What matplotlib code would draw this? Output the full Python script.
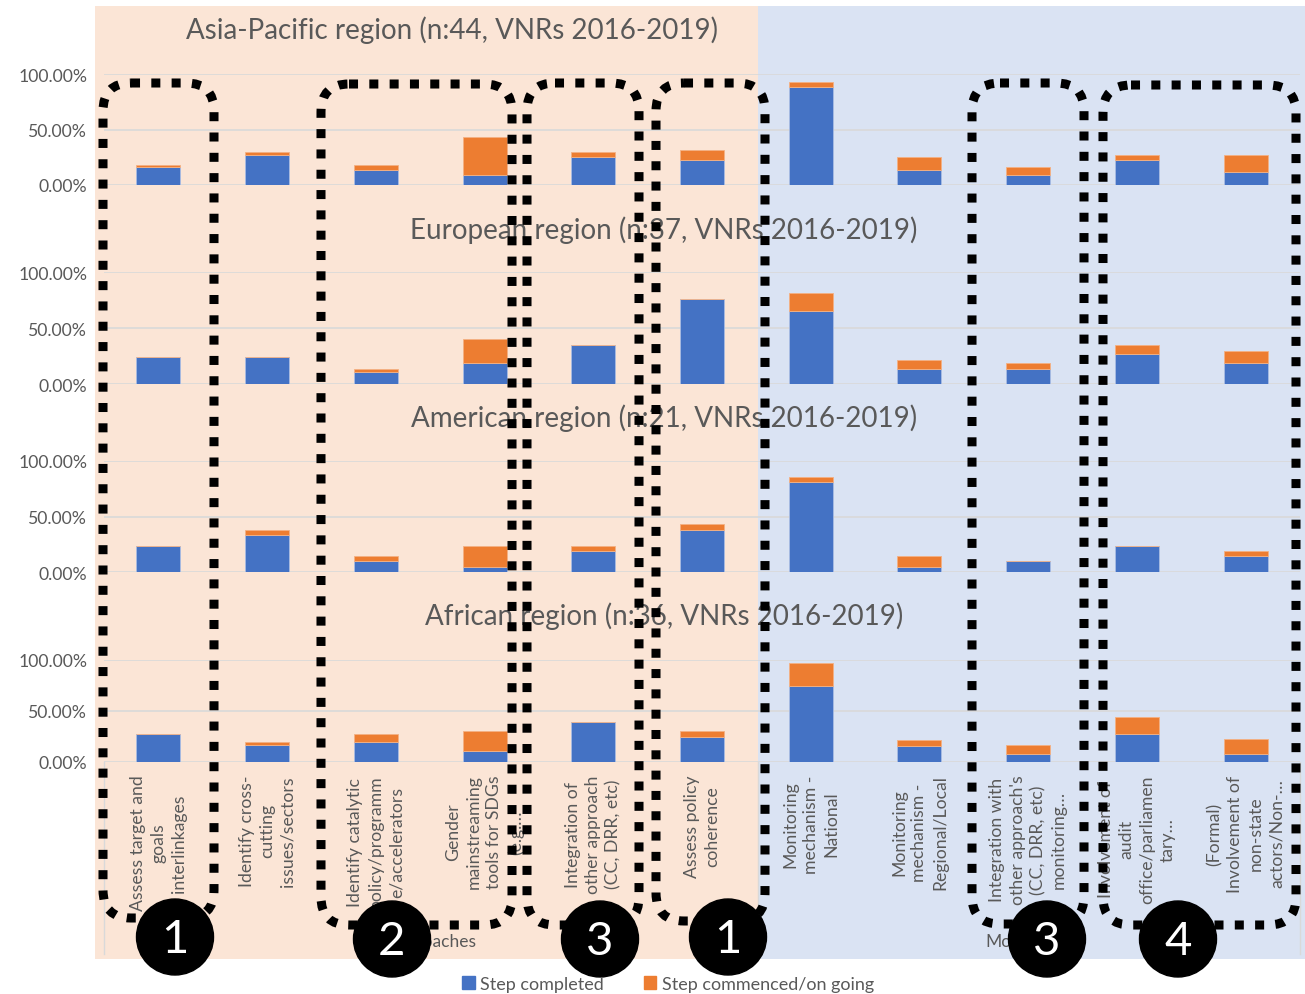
import matplotlib
matplotlib.use("Agg")
import matplotlib.pyplot as plt
from matplotlib.patches import Rectangle, FancyBboxPatch, Ellipse, Patch
from matplotlib.ticker import PercentFormatter

plt.rcParams["font.family"] = ["Lato", "DejaVu Sans"]

# --- Figure size in pixels ---
W, H = 1305, 995
GREY = "#595959"
BLUE = "#4472C4"
ORANGE = "#ED7D31"
PEACH = "#FBE5D6"
LIGHTBLUE = "#DAE3F3"
GRID = "#D9D9D9"

# --- Data ---
categories = [
    "Assess target and\ngoals\ninterlinkages",
    "Identify cross-\ncutting\nissues/sectors",
    "Identify catalytic\npolicy/programm\ne/accelerators",
    "Gender\nmainstreaming\ntools for SDGs\n(e.g.\u2026",
    "Integration of\nother approach\n(CC, DRR, etc)",
    "Assess policy\ncoherence",
    "Monitoring\nmechanism -\nNational",
    "Monitoring\nmechanism -\nRegional/Local",
    "Integration with\nother approach's\n(CC, DRR, etc)\nmonitoring\u2026",
    "Involvement of\naudit\noffice/parliamen\ntary\u2026",
    "(Formal)\nInvolvement of\nnon-state\nactors/Non-\u2026",
]
groups = ["Approaches", "Monitoring"]
series_names = ["Step completed", "Step commenced/on going"]

regions = [
    "Asia-Pacific region (n:44, VNRs 2016-2019)",
    "European region (n:37, VNRs 2016-2019)",
    "American region (n:21, VNRs 2016-2019)",
    "African region (n:36, VNRs 2016-2019)",
]

# values in %
asia_completed = [15.9, 27.3, 13.6, 9.1, 25.0, 22.7, 88.6, 13.6, 9.1, 22.7, 11.4]
asia_commenced = [2.3, 2.3, 4.5, 34.1, 4.5, 9.1, 4.5, 11.4, 6.8, 4.5, 15.9]

europe_completed = [24.3, 24.3, 10.8, 18.9, 35.1, 75.7, 64.9, 13.5, 13.5, 27.0, 18.9]
europe_commenced = [0, 0, 2.7, 21.6, 0, 0, 16.2, 8.1, 5.4, 8.1, 10.8]

america_completed = [23.8, 33.3, 9.5, 4.8, 19.0, 38.1, 81.0, 4.8, 9.5, 23.8, 14.3]
america_commenced = [0, 4.8, 4.8, 19.0, 4.8, 4.8, 4.8, 9.5, 0, 0, 4.8]

africa_completed = [27.8, 16.7, 19.4, 11.1, 38.9, 25.0, 75.0, 15.3, 8.3, 27.8, 8.3]
africa_commenced = [0, 2.8, 8.3, 19.4, 0, 5.6, 22.2, 6.3, 8.3, 16.7, 13.9]

completed = [asia_completed, europe_completed, america_completed, africa_completed]
commenced = [asia_commenced, europe_commenced, america_commenced, africa_commenced]

# --------------------------
# Layout (pixel positions)
# --------------------------
panel_px = [(75, 186), (273, 385), (462, 573), (661, 763)]   # (100% line, 0% line)
title_px = [(452, 30), (664, 230), (664, 418), (664, 616)]
plot_x0, plot_x1 = 104, 1300

fig = plt.figure(figsize=(W / 100, H / 100), dpi=100)


def pixel_axes(zorder):
    ax = fig.add_axes([0, 0, 1, 1], zorder=zorder)
    ax.set_xlim(0, W)
    ax.set_ylim(H, 0)
    ax.axis("off")
    ax.patch.set_alpha(0)
    return ax


# background panels
bg = pixel_axes(0)
bg.add_patch(Rectangle((95, 7), 663, 953, color=PEACH, lw=0))
bg.add_patch(Rectangle((758, 7), W - 758, 953, color=LIGHTBLUE, lw=0))
for xs in (plot_x0, 757.5, plot_x1):
    bg.plot([xs, xs], [763, 955], color=GRID, lw=1)
bg.text(431, 942, groups[0], ha="center", va="center", fontsize=12.5, color=GREY)
bg.text(1028, 942, groups[1], ha="center", va="center", fontsize=12.5, color=GREY)

x = list(range(len(categories)))
for i, (top, bot) in enumerate(panel_px):
    ax = fig.add_axes([plot_x0 / W, 1 - bot / H, (plot_x1 - plot_x0) / W, (bot - top) / H],
                      zorder=1)
    ax.patch.set_alpha(0)
    ax.bar(x, completed[i], width=0.405, color=BLUE, edgecolor="#A9BCE3", lw=0.6,
           zorder=2)
    ax.bar(x, commenced[i], width=0.405, bottom=completed[i], color=ORANGE,
           edgecolor="#F4B183", lw=0.6, zorder=2)
    ax.set_xlim(-0.5, len(categories) - 0.5)
    ax.set_ylim(0, 100)
    ax.set_yticks([0, 50, 100])
    ax.yaxis.set_major_formatter(PercentFormatter(decimals=2))
    ax.grid(axis="y", color=GRID, lw=1.2)
    ax.set_axisbelow(True)
    for s in ax.spines.values():
        s.set_visible(False)
    ax.tick_params(axis="y", length=0, pad=12, labelsize=12.7, labelcolor=GREY)
    if i == len(panel_px) - 1:
        ax.set_xticks(x)
        ax.set_xticklabels(categories, rotation=90, fontsize=12.7, color=GREY,
                           linespacing=1.35)
        for lab in ax.get_xticklabels():
            lab.set_multialignment("center")
        ax.tick_params(axis="x", length=0, pad=9)
    else:
        ax.set_xticks([])
    fig.text(title_px[i][0] / W, 1 - title_px[i][1] / H, regions[i], ha="center",
             va="center", fontsize=20, color=GREY, zorder=3)

# dotted rounded boxes and numbered circles on top
ov = pixel_axes(5)
boxes = [(103, 84, 214, 919), (321, 85, 512, 926), (527, 84, 639, 926),
         (656, 84, 765, 922), (972, 84, 1084, 925), (1103, 86, 1296, 926)]
for x0, y0, x1, y1 in boxes:
    ov.add_patch(FancyBboxPatch((x0, y0), x1 - x0, y1 - y0,
                                boxstyle="round,pad=0,rounding_size=28",
                                fill=False, ec="black", lw=6.5,
                                linestyle=(0, (1.0, 1.25)), capstyle="butt"))

circles = [(175, "1", 938), (392, "2", 940), (600, "3", 940), (728, "1", 938),
           (1047, "3", 940), (1178, "4", 940)]
for cx, num, cy in circles:
    ov.add_patch(Ellipse((cx, cy), 77, 76, color="black"))
    ov.text(cx, cy + 2, num, ha="center", va="center", fontsize=34, color="white")

fig.legend(handles=[Patch(color=BLUE, label=series_names[0]),
                    Patch(color=ORANGE, label=series_names[1])],
           loc="center", bbox_to_anchor=(668 / W, 1 - 985 / H), ncol=2, frameon=False,
           handlelength=0.7, handleheight=0.7, handletextpad=0.3, columnspacing=2.2,
           fontsize=13, labelcolor=GREY)

fig.savefig("out.png", dpi=100)
